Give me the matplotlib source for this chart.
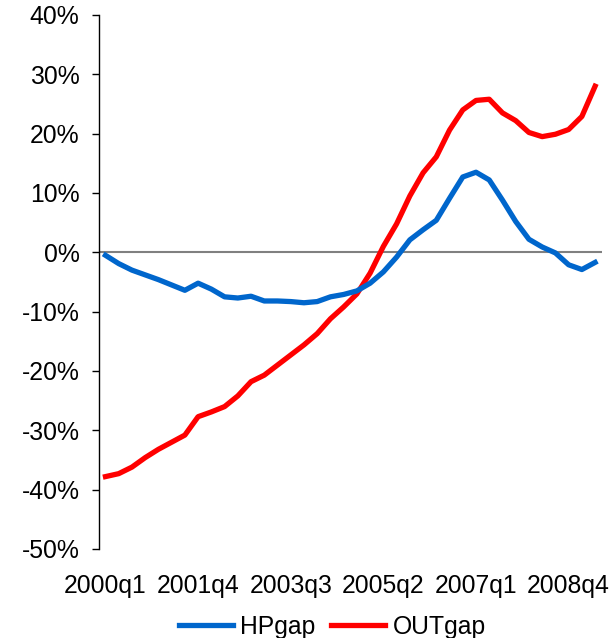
import matplotlib
matplotlib.use("Agg")
import matplotlib.pyplot as plt
from matplotlib.ticker import FuncFormatter

plt.rcParams['font.family'] = ['Liberation Sans', 'DejaVu Sans']

years = list(range(2000, 2010))
quarters = [f"{y}q{q}" for y in years for q in range(1, 5)][:38]  # 2000q1 .. 2009q2

hp_gap = [-0.5, -1.9, -3.0, -3.8, -4.6, -5.5, -6.4, -5.2, -6.2, -7.5,
          -7.7, -7.4, -8.2, -8.2, -8.3, -8.5, -8.3, -7.5, -7.1, -6.5,
          -5.2, -3.3, -0.8, 2.1, 3.8, 5.4, 9.1, 12.7, 13.5, 12.2,
          8.8, 5.2, 2.2, 0.9, -0.1, -2.1, -2.9, -1.7]
out_gap = [-37.8, -37.3, -36.2, -34.6, -33.2, -32.0, -30.8, -27.7, -26.9, -26.0,
           -24.2, -21.8, -20.7, -19.0, -17.3, -15.6, -13.7, -11.2, -9.2, -7.0,
           -3.5, 1.0, 4.8, 9.5, 13.4, 16.1, 20.6, 24.0, 25.6, 25.8,
           23.5, 22.2, 20.2, 19.5, 19.9, 20.7, 22.9, 28.0]

tick_idx = [0, 7, 14, 21, 28, 35]
y_ticks = list(range(-50, 41, 10))

fig = plt.figure(figsize=(6.14, 6.38), dpi=100)
ax = fig.add_axes([0.161, 0.1395, 0.819, 0.837])

x = list(range(len(quarters)))
ax.axhline(0, color='#808080', lw=1.5, zorder=1)
ax.plot(x, hp_gap, color='#0066CC', lw=3.8, label='HPgap', zorder=3, solid_joinstyle='round')
ax.plot(x, out_gap, color='#FF0000', lw=3.8, label='OUTgap', zorder=2, solid_joinstyle='round')

ax.set_xlim(-0.5, len(quarters) - 0.5)
ax.set_ylim(-50, 40)
ax.set_yticks(y_ticks)
ax.yaxis.set_major_formatter(FuncFormatter(lambda v, p: f"{int(v)}%"))
ax.set_xticks(tick_idx)
ax.set_xticklabels([quarters[i] for i in tick_idx])

for s in ['top', 'right', 'bottom']:
    ax.spines[s].set_visible(False)
ax.spines['left'].set_linewidth(1.0)
ax.tick_params(axis='y', direction='out', length=5, width=1.0, pad=9, labelsize=17.8, colors='black')
ax.tick_params(axis='x', length=0, pad=18, labelsize=17.8)

fig.legend(loc='lower center', bbox_to_anchor=(0.541, -0.036), ncol=2, frameon=False,
           fontsize=17.8, handlelength=2.2, handletextpad=0.3, columnspacing=0.6)

fig.savefig('out.png', dpi=100)
